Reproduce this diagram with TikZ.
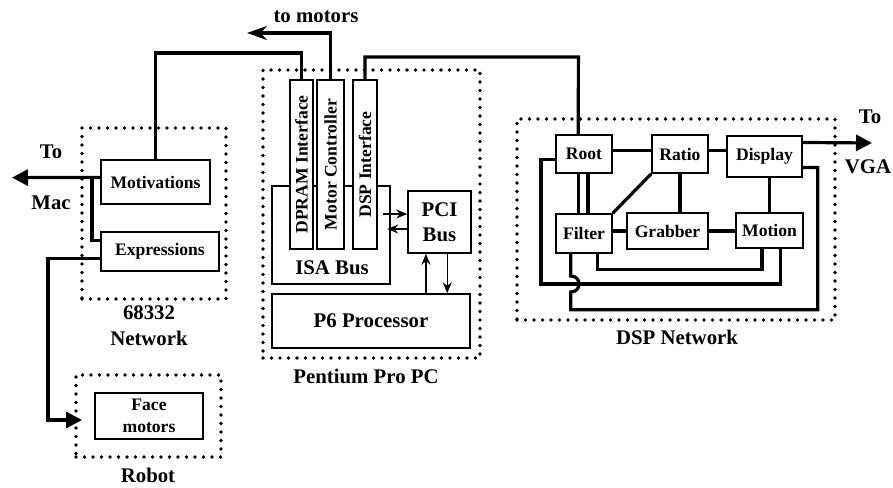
\documentclass[tikz,border=0pt]{standalone}
\usepackage{fontspec}
\setmainfont{Liberation Serif}
\usepackage{graphicx}
\usetikzlibrary{arrows.meta,calc}
\newcommand\bxfont{\fontsize{17.6pt}{21.7pt}\selectfont\bfseries}
\newcommand\lblfont{\fontsize{20.8pt}{25pt}\selectfont\bfseries}
\tikzset{
  box/.style={draw, line width=1.5pt, fill=white, inner sep=0pt, font=\bxfont},
  dotbox/.style={draw, line width=3.6pt, dash pattern=on 0pt off 8.5pt, line cap=round, inner sep=0pt},
  lbl/.style={inner sep=0pt, font=\lblfont},
  wire/.style={line width=3.2pt},
  bigtip/.style={-{Triangle[length=16pt,width=16pt]}},
  arr/.style={line width=1.4pt, -{Stealth[length=11pt,width=9pt]}}
}
\begin{document}
\begin{tikzpicture}[x=1pt,y=-1pt]
\useasboundingbox (0,0) rectangle (893,487);

% dotted enclosures
\node[dotbox, minimum width=144pt, minimum height=171pt] (net) at (154,213.5) {};
\node[dotbox, minimum width=145pt, minimum height=82pt] (robot) at (148.5,416) {};
\node[dotbox, minimum width=217pt, minimum height=288pt] (pc) at (371.5,214) {};
\node[dotbox, minimum width=318pt, minimum height=201pt] (dsp) at (676,219.5) {};

% enclosure captions
\node[lbl] (n68a) at (149,313) {68332};
\node[lbl] (n68b) at (149,338) {Network};
\node[lbl] (robl) at (148,475) {Robot};
\node[lbl] (pcl) at (366,376) {Pentium Pro PC};
\node[lbl] (dspl) at (677,337) {DSP Network};
\node[lbl] (tomotl) at (316,17) {to motors};
\node[lbl] (tomac1) at (51,152) {To};
\node[lbl] (tomac2) at (51,203) {Mac};
\node[lbl] (tovga1) at (870,117) {To};
\node[lbl] (tovga2) at (868,167) {VGA};

% 68332 network and robot
\node[box, minimum width=109pt, minimum height=44pt] (mot) at (155.5,182) {Motivations};
\node[box, minimum width=118pt, minimum height=39pt] (expr) at (160,251.5) {Expressions};
\node[box, minimum width=108pt, minimum height=46pt, align=center] (face) at (149,416) {Face\\motors};

% Pentium Pro PC
\node[box, minimum width=118pt, minimum height=98pt] (isa) at (331,235) {};
\node[lbl] (isal) at (332,268) {ISA Bus};
\node[box, minimum width=23pt, minimum height=169pt] (dpram) at (301.5,164.5) {\rotatebox{90}{DPRAM Interface}};
\node[box, minimum width=27pt, minimum height=169pt] (motor) at (330.5,164.5) {\rotatebox{90}{Motor Controller}};
\node[box, minimum width=24pt, minimum height=169pt] (dspi) at (365,164.5) {\rotatebox{90}{DSP Interface}};
\node[box, font=\lblfont, align=center, minimum width=63pt, minimum height=62pt] (pci) at (439.5,222) {PCI\\Bus};
\node[box, font=\lblfont, minimum width=198pt, minimum height=54pt] (p6) at (371,321) {P6 Processor};

% DSP network
\node[box, minimum width=56pt, minimum height=38pt] (root) at (584,154) {Root};
\node[box, minimum width=56pt, minimum height=38pt] (ratio) at (680,154) {Ratio};
\node[box, minimum width=75pt, minimum height=41pt] (display) at (764.5,156.5) {Display};
\node[box, minimum width=56pt, minimum height=39pt] (filter) at (584,233.5) {Filter};
\node[box, minimum width=81pt, minimum height=36pt] (grabber) at (667.5,231) {Grabber};
\node[box, minimum width=67pt, minimum height=35pt] (motion) at (769.5,230.5) {Motion};

% links out of the PC cards
\coordinate (dprambend) at (155.5,53);
\draw[wire] (dpram.north) |- (dprambend) -- (mot.north);
\coordinate (motortip) at (247,33);
\draw[wire, -{Stealth[length=20pt,width=14pt]}] (motor.north) |- (motortip);
\coordinate (rootin) at ($(root.north west)!0.4!(root.north east)$);
\coordinate (dspbend) at (578.4,57);
\draw[wire] (dspi.north) |- (dspbend) -- (rootin);

% 68332 links
\coordinate (macout) at ($(mot.north west)!0.4!(mot.south west)$);
\coordinate (mactip) at (12,177.6);
\draw[wire, bigtip] (macout) -- (mactip);
\coordinate (macj) at (92,177.6);
\draw[wire] (macj) |- ($(expr.north west)!0.23!(expr.south west)$);
\coordinate (exprout) at ($(expr.north west)!0.67!(expr.south west)$);
\coordinate (robbend) at (48,420);
\coordinate (robtip) at (82,420);
\draw[wire, bigtip] (exprout) -| (robbend) -- (robtip);

% bus transfers
\draw[arr] ($(pci.west)+(-24,-8)$) -- ($(pci.west)+(0,-8)$);
\draw[arr] ($(pci.west)+(0,7)$) -- ($(pci.west)+(-20,7)$);
\coordinate (pciup) at ($(pci.south west)!0.29!(pci.south east)$);
\coordinate (pcidn) at ($(pci.south west)!0.62!(pci.south east)$);
\draw[arr] (pciup |- p6.north) -- (pciup);
\draw[arr] (pcidn) -- (pcidn |- p6.north);

% DSP network links
\coordinate (rootE) at ($(root.north east)!0.42!(root.south east)$);
\draw[wire] (rootE) -- (rootE -| ratio.west);
\draw[wire] (rootE -| ratio.east) -- (rootE -| display.west);
\coordinate (rf1) at ($(root.south west)!0.4!(root.south east)$);
\coordinate (rf2) at ($(root.south west)!0.57!(root.south east)$);
\draw[wire] (rf1) -- (rf1 |- filter.north);
\draw[wire] (rf2) -- (rf2 |- filter.north);
\draw[wire] (ratio.south west) -- (filter.north east);
\draw[wire] (ratio.south) -- (ratio.south |- grabber.north);
\draw[wire] (display.south -| motion.north) -- (motion.north);
\draw[wire] (filter.east |- grabber.west) -- (grabber.west);
\draw[wire] (grabber.east) -- (grabber.east -| motion.west);

\coordinate (rootW) at ($(root.north west)!0.63!(root.south west)$);
\coordinate (loopA) at (541,284);
\coordinate (motS1) at ($(motion.south west)!0.66!(motion.south east)$);
\draw[wire] (rootW) -| (loopA) -| (motS1);

\coordinate (filS1) at ($(filter.south west)!0.73!(filter.south east)$);
\coordinate (loopB) at ($(filS1)+(0,16)$);
\coordinate (motS2) at ($(motion.south west)!0.39!(motion.south east)$);
\draw[wire] (filS1) -- (loopB) -| (motS2);

\coordinate (filS2) at ($(filter.south west)!0.27!(filter.south east)$);
\coordinate (hopA) at ($(filS2 |- loopA)+(0,-8)$);
\coordinate (hopB) at ($(filS2 |- loopA)+(0,8)$);
\coordinate (loopC) at ($(filS2)+(0,56)$);
\coordinate (dispE) at ($(display.north east)!0.76!(display.south east)$);
\coordinate (loopD) at ($(dispE)+(15,0)$);
\draw[wire] (filS2) -- (hopA) .. controls ($(hopA)+(11,0)$) and ($(hopB)+(11,0)$) .. (hopB) -- (loopC) -| (loopD) -- (dispE);

\coordinate (dispV) at ($(display.north east)!0.17!(display.south east)$);
\coordinate (vgatip) at (872,143);
\draw[wire, bigtip] (dispV) -- (vgatip);
\end{tikzpicture}
\end{document}
